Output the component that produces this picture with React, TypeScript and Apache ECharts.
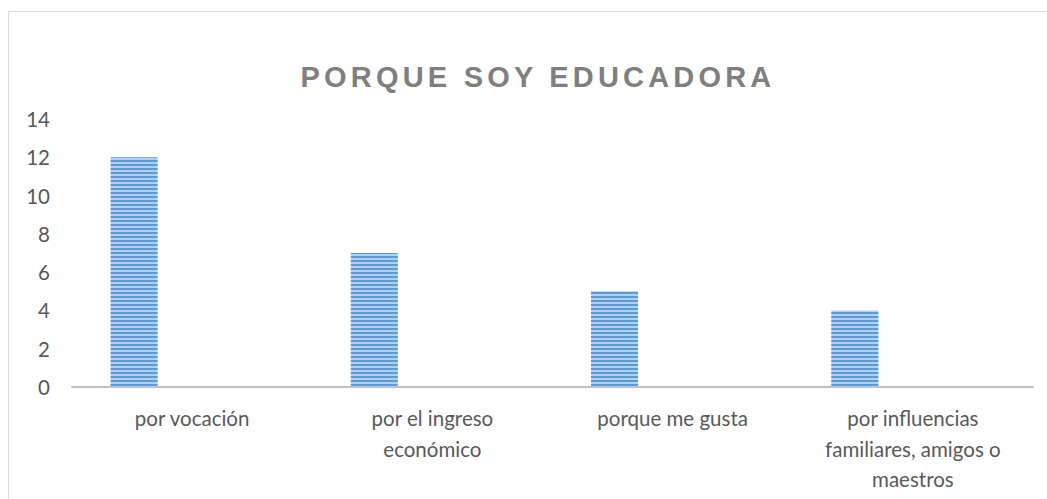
import React, { useEffect, useRef } from "react";
import * as echarts from "echarts";

const titleText = "PORQUE SOY EDUCADORA";
const categories = [
  "por vocación",
  "por el ingreso\neconómico",
  "porque me gusta",
  "por influencias\nfamiliares, amigos o\nmaestros",
];
const values = [12, 7, 5, 4];
const emptySeries = [null, null, null, null];
const yMin = 0;
const yMax = 14;
const yInterval = 2;

export default function App() {
  const ref = useRef<HTMLDivElement>(null);

  useEffect(() => {
    if (!ref.current) return;
    const chart = echarts.init(ref.current, undefined, { renderer: "svg" });
    chart.setOption({
      animation: false,
      backgroundColor: "#ffffff",
      graphic: [
        {
          type: "rect",
          shape: { x: 8.5, y: 11.5, width: 1200, height: 700 },
          style: { fill: "none", stroke: "#d9d9d9", lineWidth: 1 },
          silent: true,
        },
      ],
      title: {
        text: titleText,
        left: 533,
        top: 72,
        textAlign: "center",
        textVerticalAlign: "middle",
        textStyle: {
          fontFamily: "Liberation Sans",
          fontWeight: "bold",
          fontSize: 29,
          color: "#7f7f7f",
        },
      },
      grid: { left: 72, right: 14, top: 119, bottom: 112, containLabel: false },
      xAxis: {
        type: "category",
        data: categories,
        axisLine: { show: true, lineStyle: { color: "#bfbfbf", width: 2 } },
        axisTick: { show: false },
        axisLabel: {
          interval: 0,
          margin: 16,
          color: "#595959",
          fontFamily: "Lato",
          fontSize: 20.5,
          lineHeight: 30.5,
        },
      },
      yAxis: {
        type: "value",
        min: yMin,
        max: yMax,
        interval: yInterval,
        splitLine: { show: false },
        axisLine: { show: false },
        axisTick: { show: false },
        axisLabel: {
          margin: 22,
          color: "#595959",
          fontFamily: "Lato",
          fontSize: 20.5,
        },
      },
      series: [
        {
          type: "bar",
          data: values,
          barWidth: 47,
          barGap: "147%",
          itemStyle: {
            color: "#b4d0ee",
            decal: {
              symbol: "rect",
              symbolSize: 1,
              dashArrayX: [[1, 0]],
              dashArrayY: [2, 2],
              rotation: 0,
              color: "#5b9bd5",
            },
          },
        },
        {
          type: "bar",
          data: emptySeries,
          barWidth: 47,
        },
      ],
    });
    return () => chart.dispose();
  }, []);

  return (
    <>
      <style>{`#chartbox text[style*="29px"] { letter-spacing: 4.2px; }`}</style>
      <div
        id="chartbox"
        ref={ref}
        style={{ position: "absolute", left: 0, top: 0, width: 1047, height: 499 }}
      />
    </>
  );
}
